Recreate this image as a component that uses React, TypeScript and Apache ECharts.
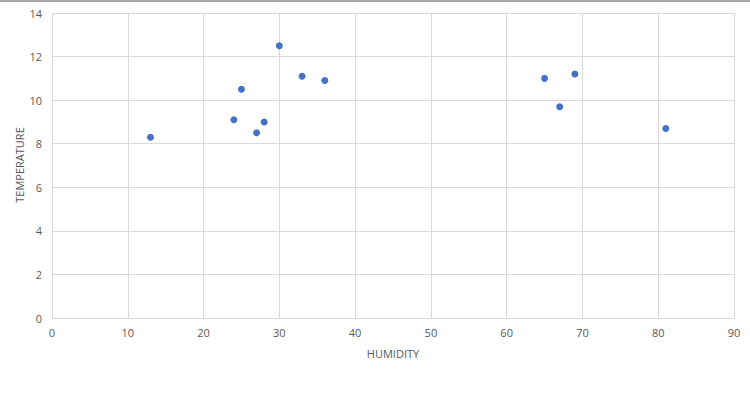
import React, { useEffect, useRef } from "react";
import * as echarts from "echarts";

const humidity = [13, 24, 25, 27, 28, 30, 33, 36, 65, 67, 69, 81];
const temperature = [8.3, 9.1, 10.5, 8.5, 9.0, 12.5, 11.1, 10.9, 11.0, 9.7, 11.2, 8.7];
const xTitle = "HUMIDITY";
const yTitle = "TEMPERATURE";

export default function App() {
  const ref = useRef<HTMLDivElement>(null);
  useEffect(() => {
    document.body.style.margin = "0";
    const chart = echarts.init(ref.current!, null, { renderer: "svg" });
    const labelStyle = { color: "#595959", fontSize: 11, fontFamily: "Open Sans" };
    chart.setOption({
      animation: false,
      backgroundColor: "#ffffff",
      grid: { left: 52, right: 16, top: 13, bottom: 79 },
      xAxis: {
        type: "value",
        min: 0,
        max: 90,
        interval: 10,
        name: xTitle,
        nameLocation: "middle",
        nameGap: 30,
        nameTextStyle: { ...labelStyle, fontSize: 11 },
        axisLine: { show: true, lineStyle: { color: "#d9d9d9" } },
        axisTick: { show: false },
        axisLabel: { ...labelStyle, margin: 9 },
        splitLine: { show: true, lineStyle: { color: "#d9d9d9", width: 1 } },
      },
      yAxis: {
        type: "value",
        min: 0,
        max: 14,
        interval: 2,
        axisLine: { show: false },
        axisTick: { show: false },
        axisLabel: { ...labelStyle, margin: 10 },
        splitLine: { show: true, lineStyle: { color: "#d9d9d9", width: 1 } },
      },
      graphic: [
        {
          type: "line",
          shape: { x1: 0, y1: 1, x2: 750, y2: 1 },
          style: { stroke: "#a6a6a6", lineWidth: 2 },
        },
        {
          type: "text",
          x: 19,
          y: 165,
          rotation: Math.PI / 2,
          style: {
            text: yTitle,
            fill: "#595959",
            fontSize: 11,
            fontFamily: "Open Sans",
            align: "center",
            verticalAlign: "middle",
          },
        },
      ],
      series: [
        {
          type: "scatter",
          symbol: "circle",
          symbolSize: 7,
          itemStyle: { color: "#4472C4", opacity: 1 },
          data: humidity.map((h, i) => [h, temperature[i]]),
        },
      ],
    });
    return () => chart.dispose();
  }, []);
  return <div ref={ref} style={{ width: 750, height: 397 }} />;
}
